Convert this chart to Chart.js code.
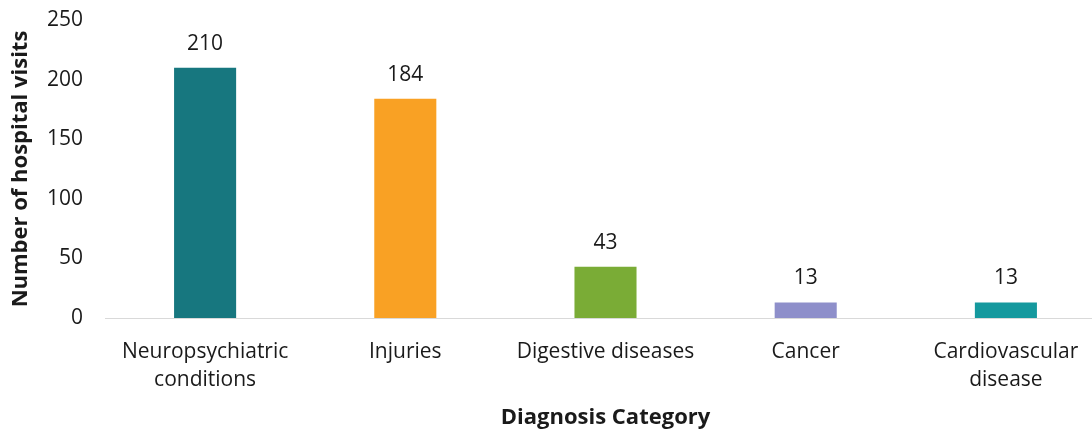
<!DOCTYPE html>
<html>
<head>
<meta charset="utf-8">
<script src="https://cdn.jsdelivr.net/npm/chart.js@4"></script>
<style>
  html, body { margin: 0; padding: 0; background: #fff; overflow: hidden; }
  #wrap { width: 1110px; height: 429px; }
</style>
</head>
<body>
<div id="wrap"><canvas id="visits" width="1110" height="429"></canvas></div>
<script>
// data
const categories = [
    ['Neuropsychiatric', 'conditions'],
    'Injuries',
    'Digestive diseases',
    'Cancer',
    ['Cardiovascular', 'disease']
];
const visits = [210, 184, 43, 13, 13];
const barColors = ['#17777f', '#f9a124', '#7aac36', '#8e8fca', '#15999e'];
const yTicks = [0, 50, 100, 150, 200, 250];

const FONT = "'Open Sans', 'Noto Sans', sans-serif";
const TEXT = '#1a1a1a';

// value labels above each bar
const valueLabels = {
    id: 'valueLabels',
    afterDatasetsDraw(chart) {
        const { ctx } = chart;
        const meta = chart.getDatasetMeta(0);
        ctx.save();
        ctx.font = `21px ${FONT}`;
        ctx.fillStyle = TEXT;
        ctx.textAlign = 'center';
        ctx.textBaseline = 'middle';
        meta.data.forEach((bar, i) => {
            ctx.fillText(String(visits[i]), bar.x, bar.y - 24);
        });
        ctx.restore();
    }
};

const ctx = document.getElementById('visits').getContext('2d');
new Chart(ctx, {
    type: 'bar',
    data: {
        labels: categories,
        datasets: [{
            data: visits,
            backgroundColor: barColors,
            borderWidth: 0,
            barPercentage: 0.62,
            categoryPercentage: 0.5
        }]
    },
    options: {
        responsive: false,
        animation: false,
        layout: { padding: { top: 20, right: 4, left: 0, bottom: 0 } },
        plugins: { legend: { display: false }, tooltip: { enabled: false } },
        scales: {
            x: {
                grid: { display: false, drawTicks: false },
                border: { display: true, color: '#d9d9d9', width: 1 },
                ticks: { color: TEXT, font: { family: FONT, size: 21, lineHeight: 1.32 }, padding: 20, maxRotation: 0, autoSkip: false },
                title: { display: true, text: 'Diagnosis Category', color: TEXT, font: { family: FONT, size: 22, weight: 'bold', lineHeight: 1 }, padding: { top: 10, bottom: 0 } },
                afterFit(scale) { scale.height = 111; }
            },
            y: {
                min: 0, max: 250,
                afterBuildTicks(scale) { scale.ticks = yTicks.map(v => ({ value: v })); },
                grid: { display: false, drawTicks: false },
                border: { display: false },
                ticks: { color: TEXT, font: { family: FONT, size: 21 }, padding: 22 },
                title: { display: true, text: 'Number of hospital visits', color: TEXT, font: { family: FONT, size: 22, weight: 'bold' }, padding: { top: 8, bottom: 0 } },
                afterFit(scale) {
                    scale.width = 105;
                    scale.paddingTop = 0;
                    scale.paddingBottom = 0;
                }
            }
        }
    },
    plugins: [valueLabels]
});
</script>
</body>
</html>
